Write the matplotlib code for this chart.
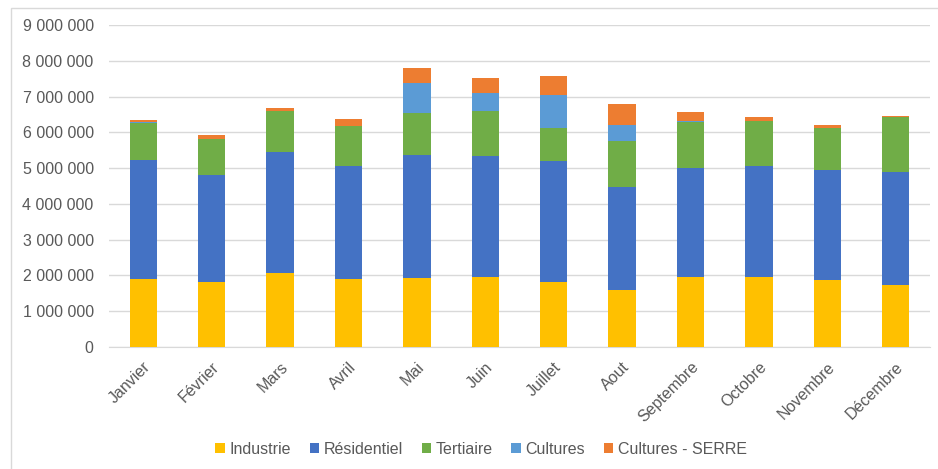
import numpy as np
import matplotlib.pyplot as plt
from matplotlib.patches import Rectangle
from matplotlib.ticker import FuncFormatter

plt.rcParams['font.family'] = ['Liberation Sans', 'DejaVu Sans']

months = ["Janvier", "Février", "Mars", "Avril", "Mai", "Juin", "Juillet",
          "Aout", "Septembre", "Octobre", "Novembre", "Décembre"]

# consumption per sector, in MWh
industrie = [1910000, 1830000, 2060000, 1910000, 1930000, 1970000,
             1830000, 1600000, 1970000, 1950000, 1870000, 1720000]
residentiel = [3320000, 2980000, 3380000, 3140000, 3440000, 3370000,
               3370000, 2880000, 3040000, 3100000, 3070000, 3160000]
tertiaire = [1040000, 1010000, 1170000, 1120000, 1160000, 1250000,
             930000, 1290000, 1270000, 1260000, 1170000, 1540000]
cultures = [10000, 0, 0, 0, 850000, 510000,
            920000, 440000, 30000, 10000, 0, 0]
serre = [70000, 110000, 70000, 210000, 410000, 430000,
         530000, 570000, 260000, 120000, 100000, 50000]

series = [("Industrie", industrie, "#ffc000"),
          ("Résidentiel", residentiel, "#4472c4"),
          ("Tertiaire", tertiaire, "#70ad47"),
          ("Cultures", cultures, "#5b9bd5"),
          ("Cultures - SERRE", serre, "#ed7d31")]

fig = plt.figure(figsize=(9.38, 4.69), dpi=100)
ax = fig.add_axes([109 / 938, 1 - 347 / 469, (930 - 109) / 938, (347 - 25) / 469])

x = np.arange(len(months))
bottom = np.zeros(len(months))
for name, vals, color in series:
    vals = np.array(vals, dtype=float)
    ax.bar(x, vals, width=0.4, bottom=bottom, color=color, label=name, zorder=3)
    bottom += vals

ax.set_xlim(-0.5, len(months) - 0.5)
ax.set_ylim(0, 9000000)
ax.set_yticks(np.arange(0, 9000001, 1000000))
ax.yaxis.set_major_formatter(FuncFormatter(lambda v, p: f"{int(v):,}".replace(",", " ")))
ax.grid(axis="y", color="#d9d9d9", linewidth=1, zorder=0)
for side in ["top", "right", "left"]:
    ax.spines[side].set_visible(False)
ax.spines["bottom"].set_color("#d9d9d9")
ax.tick_params(axis="y", length=0, labelsize=11.5, labelcolor="#595959", pad=11)
ax.tick_params(axis="x", length=0, labelsize=11.5, labelcolor="#595959", pad=9)

ax.set_xticks(x)
ax.set_xticklabels(months, rotation=45, ha="right", rotation_mode="anchor")

ax.legend(loc="center", bbox_to_anchor=(0.513, 1 - 449 / 469), bbox_transform=fig.transFigure,
          ncol=5, frameon=False, fontsize=11.5, labelcolor="#595959",
          handlelength=0.6, handleheight=0.6, handletextpad=0.3, columnspacing=1.15)

# chart frame
fig.patches.append(Rectangle((11 / 938, -0.1), 1.2, 1.1 - 8 / 469, transform=fig.transFigure,
                             fill=False, edgecolor="#d9d9d9", linewidth=1, clip_on=False))

fig.savefig("out.png", dpi=100)
